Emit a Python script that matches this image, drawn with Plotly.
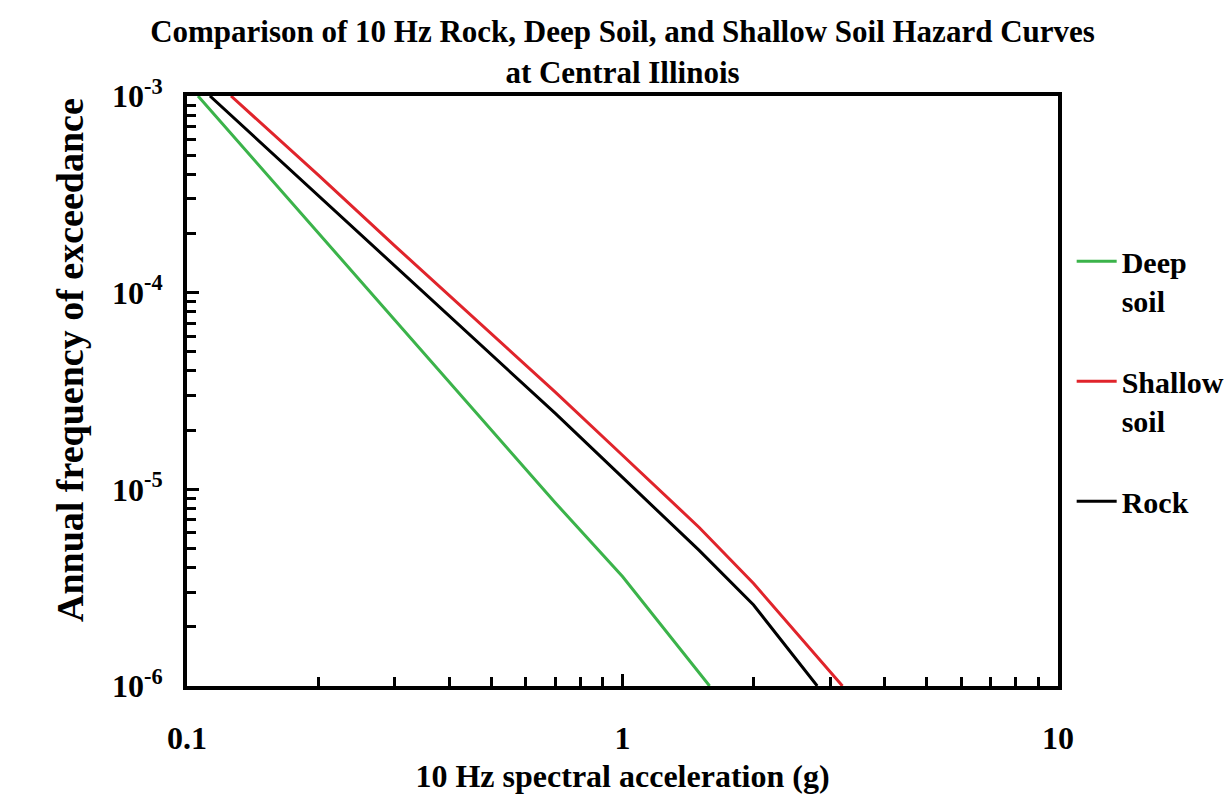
import plotly.graph_objects as go

# ---- data ----
x_deep = [0.106, 0.2, 0.3, 0.5, 0.7, 1.0, 1.585]
y_deep = [1.0e-3, 2.01e-4, 7.23e-5, 1.99e-5, 8.57e-6, 3.60e-6, 1.0e-6]

x_shallow = [0.1262, 0.2, 0.3, 0.5, 0.7, 1.0, 1.5, 2.0, 3.2]
y_shallow = [1.0e-3, 3.97e-4, 1.73e-4, 6.17e-5, 3.13e-5, 1.49e-5, 6.40e-6, 3.32e-6, 1.0e-6]

x_rock = [0.1129, 0.2, 0.3, 0.5, 0.7, 1.0, 1.5, 2.0, 2.5, 2.8]
y_rock = [1.0e-3, 3.13e-4, 1.37e-4, 4.84e-5, 2.44e-5, 1.15e-5, 4.89e-6, 2.58e-6, 1.37e-6, 1.0e-6]

series_names = ["\u00a0<br>Deep<br>soil", "\u00a0<br>Shallow<br>soil", "\u00a0<br>Rock<br>\u00a0"]

x_tickvals = [0.1, 1, 10]
x_ticktext = ["0.1", "1", "10"]
y_tickvals = [1e-6, 1e-5, 1e-4, 1e-3]
y_ticktext = ["10<sup>-6</sup>", "10<sup>-5</sup>", "10<sup>-4</sup>", "10<sup>-3</sup>"]

x_minor = [m * 10 ** e for e in (-1, 0) for m in range(2, 10)]
y_minor = [m * 10 ** e for e in (-6, -5, -4) for m in range(2, 10)]

FONT = "Liberation Serif, Times New Roman, serif"

fig = go.Figure()
fig.add_trace(go.Scatter(x=x_deep, y=y_deep, mode="lines", name=series_names[0],
                         line=dict(color="#3bb34a", width=3)))
fig.add_trace(go.Scatter(x=x_shallow, y=y_shallow, mode="lines", name=series_names[1],
                         line=dict(color="#e0242b", width=3)))
fig.add_trace(go.Scatter(x=x_rock, y=y_rock, mode="lines", name=series_names[2],
                         line=dict(color="#000000", width=3)))

axis_common = dict(
    type="log",
    showgrid=False,
    zeroline=False,
    showline=True,
    linecolor="black",
    linewidth=4,
    mirror=True,
    ticks="inside",
    ticklen=12,
    tickwidth=3,
    tickcolor="black",
    tickfont=dict(family=FONT, size=32, color="black", weight="bold"),
)

fig.update_xaxes(
    **axis_common,
    range=[-1, 1],
    tickmode="array",
    tickvals=x_tickvals,
    ticktext=x_ticktext,
    ticklabelstandoff=21,
    minor=dict(tickmode="array", tickvals=x_minor, ticks="inside", ticklen=9,
               tickwidth=3, tickcolor="black", showgrid=False),
    title=dict(text="10 Hz spectral acceleration (g)",
               font=dict(family=FONT, size=32, color="black", weight="bold"),
               standoff=10),
)
fig.update_yaxes(
    **axis_common,
    range=[-6, -3],
    tickmode="array",
    tickvals=y_tickvals,
    ticktext=y_ticktext,
    ticklabelstandoff=14,
    minor=dict(tickmode="array", tickvals=y_minor, ticks="inside", ticklen=9,
               tickwidth=3, tickcolor="black", showgrid=False),
)

fig.update_layout(
    width=1228,
    height=797,
    margin=dict(l=187, r=170, t=96, b=111, autoexpand=False),
    paper_bgcolor="white",
    plot_bgcolor="white",
    title=dict(
        text="Comparison of 10 Hz Rock, Deep Soil, and Shallow Soil Hazard Curves<br>at Central Illinois",
        font=dict(family=FONT, size=31, color="black", weight="bold"),
        x=0.5, xanchor="center", xref="paper",
        y=0.947, yanchor="top", yref="container",
    ),
    legend=dict(
        x=1.0157, xanchor="left",
        y=0.83, yanchor="top",
        font=dict(family=FONT, size=30, color="black", weight="bold"),
        itemwidth=40,
        bgcolor="rgba(0,0,0,0)",
        traceorder="normal",
        tracegroupgap=0,
    ),
    annotations=[dict(
        text="Annual frequency of exceedance",
        textangle=-90,
        xref="paper", yref="paper",
        x=-0.1343, y=0.5525,
        xanchor="center", yanchor="middle",
        showarrow=False,
        font=dict(family=FONT, size=38, color="black", weight="bold"),
    )],
    showlegend=True,
)

fig.write_html("out.html")
